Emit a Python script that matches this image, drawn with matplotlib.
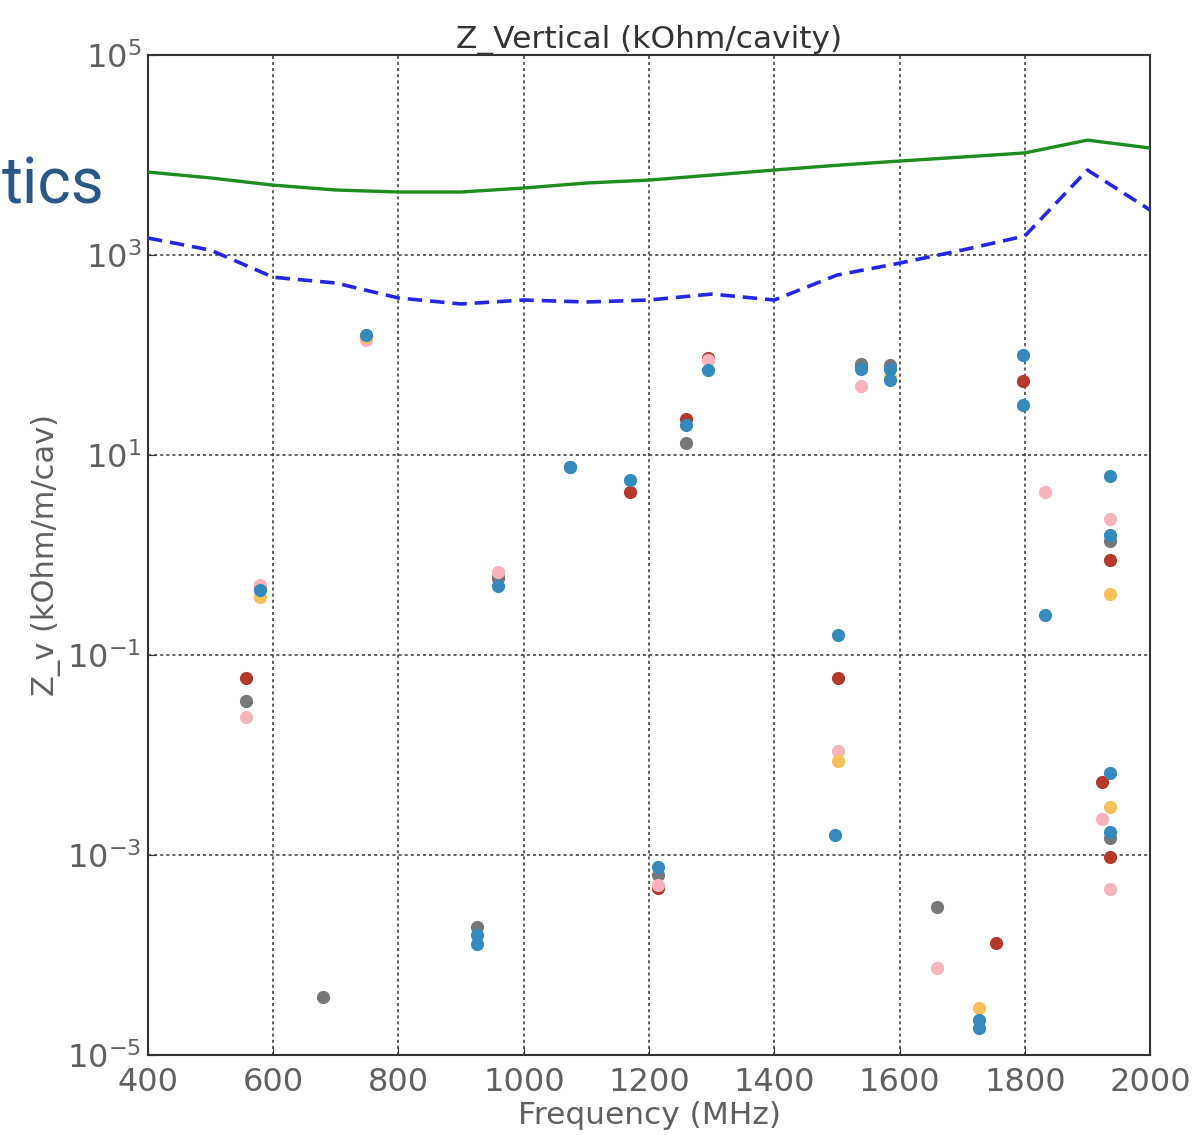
import matplotlib
matplotlib.use("Agg")
import matplotlib.pyplot as plt
from matplotlib.ticker import FixedLocator, LogFormatterMathtext, NullLocator

# Threshold curves
thr_freq = [400, 500, 600, 700, 800, 900, 1000, 1100, 1200, 1300, 1400, 1500, 1600, 1700, 1800, 1900, 2000]
green_vals = [6760, 5900, 5000, 4470, 4270, 4270, 4680, 5250, 5620, 6300, 7080, 7900, 8710, 9550, 10500, 14100, 11750]
blue_dash_vals = [1480, 1120, 600, 525, 372, 324, 355, 339, 355, 407, 355, 630, 830, 1120, 1550, 7080, 2820]

# Mode impedances per series (frequency MHz, Z kOhm/m/cav)
red_freq = [556, 579, 748, 959, 1170, 1214, 1259, 1294, 1502, 1539, 1754, 1797, 1923, 1936, 1936]
red_vals = [5.9e-2, 0.47, 151, 0.59, 4.3, 4.7e-4, 22.9, 93, 5.9e-2, 78, 1.32e-4, 55, 5.4e-3, 0.89, 9.5e-4]

gray_freq = [556, 680, 925, 959, 1074, 1214, 1259, 1539, 1585, 1660, 1936, 1936]
gray_vals = [3.5e-2, 3.8e-5, 1.9e-4, 0.60, 7.6, 6.3e-4, 13.2, 81, 79, 3.0e-4, 1.38, 1.48e-3]

pink_freq = [556, 579, 748, 959, 1214, 1294, 1502, 1539, 1660, 1832, 1923, 1936, 1936]
pink_vals = [2.4e-2, 0.50, 141, 0.68, 5.0e-4, 89, 1.1e-2, 49, 7.4e-5, 4.3, 2.3e-3, 2.3, 4.6e-4]

yellow_freq = [579, 748, 1502, 1585, 1727, 1936, 1936]
yellow_vals = [0.38, 150, 8.7e-3, 60, 2.95e-5, 0.41, 3.0e-3]

blue_freq = [579, 748, 925, 925, 959, 1074, 1170, 1214, 1259, 1294, 1497, 1502, 1539, 1585, 1585,
             1727, 1727, 1797, 1797, 1832, 1936, 1936, 1936, 1936]
blue_vals = [0.45, 158, 1.58e-4, 1.29e-4, 0.49, 7.6, 5.6, 7.6e-4, 20, 71, 1.58e-3, 0.158, 72, 72, 56,
             2.24e-5, 1.86e-5, 100, 32, 0.25, 6.2, 1.58, 6.6e-3, 1.7e-3]

series = [
    (red_freq, red_vals, "#B5392B"),
    (gray_freq, gray_vals, "#777777"),
    (pink_freq, pink_vals, "#F8B4BC"),
    (yellow_freq, yellow_vals, "#F5C159"),
    (blue_freq, blue_vals, "#348ABD"),
]

plt.rcParams["mathtext.default"] = "regular"
fig = plt.figure(figsize=(11.98, 11.35), dpi=100)
ax = fig.add_axes([0.1235, 0.0705, 0.8365, 0.881])

ax.plot(thr_freq, green_vals, color="#1E8C1E", lw=2.4, zorder=3)
ax.plot(thr_freq, blue_dash_vals, color="#2525E6", lw=2.6, ls=(0, (4, 2.2)), zorder=3)

for fr, vals, col in series:
    ax.plot(fr, vals, "o", color=col, markersize=9.5, markeredgewidth=0, zorder=4)

ax.set_yscale("log")
ax.set_xlim(400, 2000)
ax.set_ylim(1e-5, 1e5)
ax.yaxis.set_major_locator(FixedLocator([1e-5, 1e-3, 1e-1, 1e1, 1e3, 1e5]))
ax.yaxis.set_major_formatter(LogFormatterMathtext())
ax.yaxis.set_minor_locator(NullLocator())
ax.set_xticks([400, 600, 800, 1000, 1200, 1400, 1600, 1800, 2000])

ax.grid(True, which="major", color="#333333", ls=(0, (2, 2)), lw=1.1)
ax.set_axisbelow(True)
for s in ax.spines.values():
    s.set_color("#333333")
    s.set_linewidth(1.5)

ax.tick_params(axis="both", which="major", labelsize=23, labelcolor="#606060",
               direction="in", length=6, color="#333333")
ax.tick_params(axis="x", pad=9)
ax.tick_params(axis="y", pad=5)

ax.set_title("Z_Vertical (kOhm/cavity)", fontsize=22.5, color="#333333", pad=4)
ax.set_xlabel("Frequency (MHz)", fontsize=22.5, color="#606060", labelpad=2)
ax.set_ylabel("Z_v (kOhm/m/cav)", fontsize=22, color="#606060", labelpad=4)

fig.text(0.001, 0.821, "tics", fontsize=46, color="#2A5886", family="Roboto",
         ha="left", va="baseline")

fig.savefig("out.png", dpi=100)
